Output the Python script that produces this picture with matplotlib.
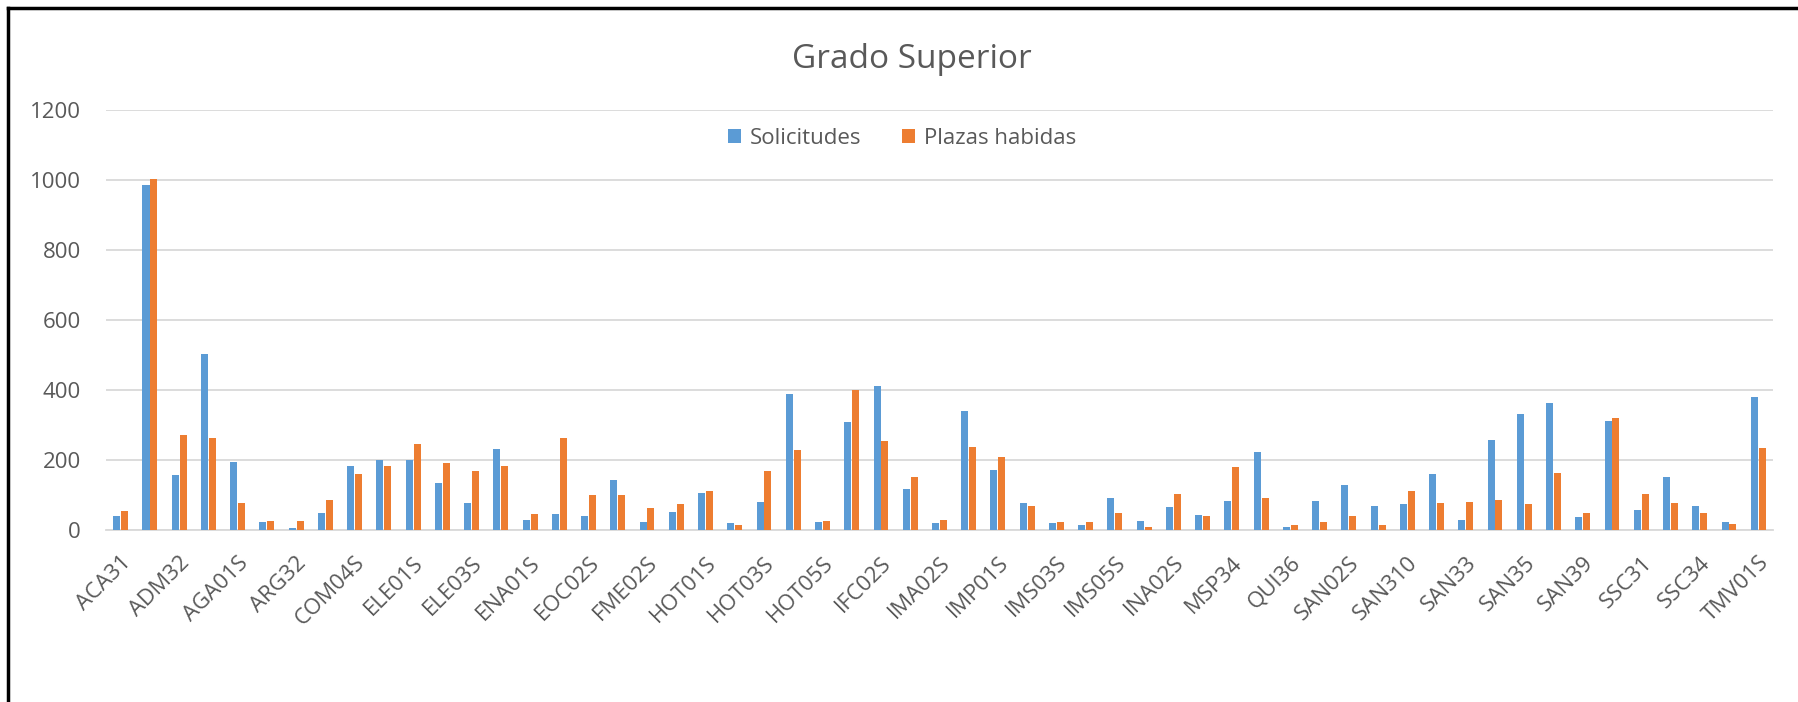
import matplotlib
matplotlib.use("Agg")
import numpy as np
import matplotlib.pyplot as plt
from matplotlib.lines import Line2D

# ciclos de grado superior (solo se ven las etiquetas alternas)
categorias = [
    "ACA31", "ADG01S", "ADM32", "AFD01S", "AGA01S", "AGA02S", "ARG32", "COM01S",
    "COM04S", "COM05S", "ELE01S", "ELE02S", "ELE03S", "ELE04S", "ENA01S", "EOC01S",
    "EOC02S", "FME01S", "FME02S", "FME03S", "HOT01S", "HOT02S", "HOT03S", "HOT04S",
    "HOT05S", "IFC01S", "IFC02S", "IFC03S", "IMA02S", "IMA03S", "IMP01S", "IMS01S",
    "IMS03S", "IMS04S", "IMS05S", "INA01S", "INA02S", "MSP32", "MSP34", "QUI01S",
    "QUI36", "SAN01S", "SAN02S", "SAN31", "SAN310", "SAN32", "SAN33", "SAN34",
    "SAN35", "SAN37", "SAN39", "SEA01S", "SSC31", "SSC33", "SSC34", "SSC35", "TMV01S",
]

solicitudes = [
    40, 984, 157, 501, 194, 22, 5, 48, 182, 201, 201, 135, 76, 230, 29, 45,
    40, 143, 22, 51, 106, 19, 80, 388, 22, 307, 410, 118, 19, 340, 172, 76,
    19, 14, 91, 26, 66, 44, 84, 223, 10, 84, 128, 69, 73, 161, 29, 256,
    330, 362, 36, 311, 58, 150, 69, 22, 381,
]

plazas = [
    54, 1002, 270, 263, 76, 26, 26, 87, 161, 182, 245, 190, 168, 182, 45, 263,
    99, 99, 62, 73, 110, 14, 168, 227, 26, 399, 253, 150, 29, 238, 208, 69,
    22, 22, 48, 10, 103, 40, 179, 91, 14, 22, 40, 14, 110, 76, 80, 87,
    73, 164, 48, 321, 103, 76, 48, 18, 234,
]

azul = "#5B9BD5"
naranja = "#ED7D31"
gris = "#595959"

plt.rcParams["font.family"] = ["Open Sans", "DejaVu Sans"]

fig = plt.figure(figsize=(17.98, 7.02), dpi=100)
ax = fig.add_axes([0.059, 0.245, 0.927, 0.599])

x = np.arange(len(categorias))
w = 0.24
ax.bar(x - 0.135, solicitudes, w, color=azul, linewidth=0,
       label="Solicitudes", zorder=3)
ax.bar(x + 0.135, plazas, w, color=naranja, linewidth=0,
       label="Plazas habidas", zorder=3)

ax.set_xlim(-0.5, len(categorias) - 0.5)
ax.set_ylim(0, 1200)
ax.set_yticks(range(0, 1201, 200))
ax.yaxis.grid(True, color="#D9D9D9", linewidth=1.3, zorder=0)
ax.set_axisbelow(True)

for s in ["top", "right", "left"]:
    ax.spines[s].set_visible(False)
ax.spines["bottom"].set_color("#D9D9D9")
ax.spines["bottom"].set_linewidth(1.3)

ax.set_xticks(x[::2])
ax.set_xticklabels(categorias[::2], rotation=45, ha="right", va="top",
                   rotation_mode="anchor", fontsize=16, color=gris)
ax.tick_params(axis="x", length=0, pad=16)
ax.tick_params(axis="y", length=0, pad=18, labelsize=16, labelcolor=gris)

fig.text(0.507, 0.915, "Grado Superior", ha="center", va="center",
         fontsize=24, color=gris)

leg = ax.legend(loc="center", bbox_to_anchor=(0.4775, 0.932), ncol=2,
                frameon=False, fontsize=16, handlelength=0.6, handleheight=0.6,
                handletextpad=0.4, columnspacing=1.8)
for t in leg.get_texts():
    t.set_color(gris)

# marco negro (arriba e izquierda)
fig.add_artist(Line2D([0.0047, 1.0], [0.988, 0.988], color="black", linewidth=2.5,
                      transform=fig.transFigure))
fig.add_artist(Line2D([0.0047, 0.0047], [0.0, 0.988], color="black", linewidth=2.5,
                      transform=fig.transFigure))

fig.savefig("out.png", dpi=100, facecolor="white")
